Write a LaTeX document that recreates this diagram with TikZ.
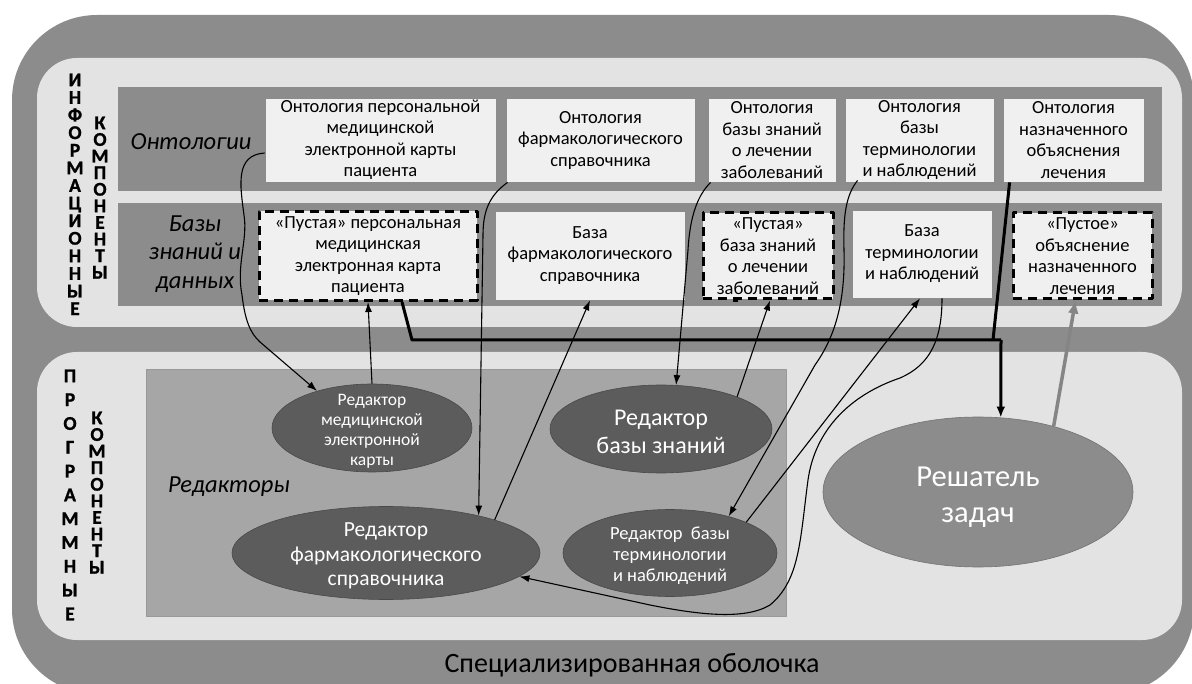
\documentclass[tikz,border=0pt]{standalone}
\usepackage{fontspec}
\setmainfont{Carlito}
\newfontfamily\vfnt{Carlito}[BoldFeatures={FakeBold=1.2}]
\usetikzlibrary{shapes.geometric,arrows.meta,calc}
\definecolor{shellc}{gray}{0.55}
\definecolor{panelc}{gray}{0.89}
\definecolor{bandc}{gray}{0.55}
\definecolor{edc}{gray}{0.65}
\definecolor{boxc}{gray}{0.94}
\definecolor{ellc}{gray}{0.36}
\definecolor{solvc}{gray}{0.55}
\definecolor{grayarrow}{gray}{0.52}
\newcommand\boxfnt{\fontsize{18.5}{21.5}\selectfont}
\tikzset{
  obox/.style={draw=black!45, line width=0.8pt, fill=boxc, align=center, inner sep=0pt, font=\boxfnt},
  dbox/.style={draw=black, line width=3pt, dash pattern=on 9pt off 6pt, fill=boxc, align=center, inner sep=0pt, font=\boxfnt},
  ell/.style={ellipse, fill=ellc, draw=ellc!80!black, line width=0.6pt, inner sep=0pt},
  etext/.style={text=white, align=center, inner sep=0pt},
  lab/.style={font=\itshape\fontsize{24.5}{28.5}\selectfont, align=center, inner sep=0pt},
  vl/.style={inner sep=0pt, text height=12.5pt, text depth=0pt, font=\vfnt\bfseries\fontsize{19.5}{20}\selectfont},
  conn/.style={line width=1.1pt, -{Latex[length=10pt,width=7pt]}},
  bus/.style={line width=3pt},
}
\begin{document}
\begin{tikzpicture}[x=1pt,y=-1pt,line join=round]
\useasboundingbox (0,0) rectangle (1192,684);
\begin{scope}
\clip (0,0) rectangle (1192,684);
\fill[shellc, rounded corners=85pt] (12,15) rectangle (1194,694);
\end{scope}
% panels
\fill[panelc, rounded corners=40pt] (37,58) rectangle (1182,327);
\fill[panelc, rounded corners=40pt] (37,352) rectangle (1182,640);
% bands
\fill[bandc] (118,87) rectangle (1162,191);
\fill[bandc] (118,203) rectangle (1162,306);
\filldraw[fill=edc, draw=black!40, line width=0.6pt] (146,369) rectangle (786,616);

% vertical titles
\foreach \l [count=\i] in {И,Н,Ф,О,Р,М,А,Ц,И,О,Н,Н,Ы,Е}
  \node[vl] (vinf-\i) at (75,{80+(\i-1)*17.6}) {\l};
\foreach \l [count=\i] in {К,О,М,П,О,Н,Е,Н,Т,Ы}
  \node[vl] (vkoma-\i) at (100,{123+(\i-1)*16.6}) {\l};
\foreach \l [count=\i] in {П,Р,О,Г,Р,А,М,М,Н,Ы,Е}
  \node[vl] (vprog-\i) at (70,{376+(\i-1)*23.8}) {\l};
\foreach \l [count=\i] in {К,О,М,П,О,Н,Е,Н,Т,Ы}
  \node[vl] (vkomb-\i) at (97,{418+(\i-1)*16.6}) {\l};

% labels
\node[lab] (lonto) at (191,142) {Онтологии};
\node[lab] (lbases) at (195,254) {Базы\\знаний и\\данных};
\node[lab] (led) at (229,487) {Редакторы};

% ontology boxes
\node[obox, minimum width=231pt, minimum height=84pt] (o1) at (380.5,140) {Онтология персональной\\медицинской\\электронной карты\\пациента};
\node[obox, minimum width=189pt, minimum height=84pt] (o2) at (600.5,140) {Онтология\\фармакологического\\справочника};
\node[obox, minimum width=128pt, minimum height=84pt] (o3) at (772,140) {Онтология\\базы знаний\\о лечении\\заболеваний};
\node[obox, minimum width=149pt, minimum height=84pt] (o4) at (919.5,140) {Онтология\\базы\\терминологии\\и наблюдений};
\node[obox, minimum width=141pt, minimum height=84pt] (o5) at (1073.5,140) {Онтология\\назначенного\\объяснения\\лечения};

% data boxes
\node[dbox, minimum width=218pt, minimum height=89pt] (d1) at (368,256) {«Пустая» персональная\\медицинская\\электронная карта\\пациента};
\node[obox, minimum width=190pt, minimum height=89pt] (d2) at (590,255.5) {База\\фармакологического\\справочника};
\node[dbox, minimum width=130pt, minimum height=86pt] (d3) at (768,256) {«Пустая»\\база знаний\\о лечении\\заболеваний};
\node[obox, minimum width=140pt, minimum height=88pt] (d4) at (922,254) {База\\терминологии\\и наблюдений};
\node[dbox, minimum width=139pt, minimum height=86pt] (d5) at (1082.5,256) {«Пустое»\\объяснение\\назначенного\\лечения};

% ellipses
\node[ell, minimum width=200pt, minimum height=88pt] (e1) at (372,428) {};
\node[etext, font=\fontsize{17.5}{20}\selectfont] (e1t) at (372,431) {Редактор\\медицинской\\электронной\\карты};
\node[ell, minimum width=222pt, minimum height=88pt] (e2) at (661,429) {};
\node[etext, font=\fontsize{24}{28}\selectfont] (e2t) at (661,432) {Редактор\\базы знаний};
\node[ell, minimum width=308pt, minimum height=93pt] (e3) at (386,553) {};
\node[etext, font=\fontsize{21.5}{24.5}\selectfont] (e3t) at (386,556) {Редактор\\фармакологического\\справочника};
\node[ell, minimum width=214pt, minimum height=87pt] (e4) at (670,553) {};
\node[etext, font=\fontsize{18.5}{21}\selectfont] (e4t) at (670,556) {Редактор\ \ базы\\терминологии\\и наблюдений};
\node[ellipse, fill=solvc, draw=black!55, line width=0.6pt, inner sep=0pt, minimum width=310pt, minimum height=150pt] (e5) at (978,492) {};
\node[etext, font=\fontsize{30.5}{36}\selectfont] (e5t) at (978,497) {Решатель\\задач};

% connectors
\draw[conn] ($(o1.west)+(0,13)$) .. controls (235,155) and (240,185) .. (244,215)
   .. controls (248,240) and (236,265) .. (242,295)
   .. controls (245,320) and (250,333) .. (260,342) -- (e1.146);
\draw[conn] (e1.north) -- (d1.south);
\draw[conn] ($(o2.south west)+(2,0)$) .. controls (490,195) and (483,210) .. (483,235) -- (e3.22);
\draw[conn] (e3.17) -- (d2.south);
\draw[conn] ($(o3.south west)+(3,0)$) .. controls (698,195) and (690,215) .. (688,250) -- (e2.71);
\draw[conn] (e2.23) -- ($(d3.south)+(2,0)$);
\draw[conn] ($(o4.south west)+(13,-2)$) .. controls (846,195) and (843,215) .. (844,250)
   .. controls (845,290) and (840,330) .. (815,365) -- (e4.32);
\draw[conn] (e4.22) -- ($(d4.south)+(-2,0)$);
\draw[conn] ($(d4.south)+(20,0)$) .. controls (942,340) and (930,365) .. (900,378)
   .. controls (850,395) and (815,430) .. (808,480)
   .. controls (800,540) and (800,580) .. (770,605)
   .. controls (745,620) and (700,615) .. (650,605) -- (e3.-10);

% bus
\coordinate (busL) at (412,340);
\coordinate (busR) at (1001,340);
\draw[bus] ($(d1.south)+(34,0)$) -- (busL) -- (busR);
\draw[bus] ($(d2.south)+(35,0)$) -- ($(d2.south)+(35,0)$ |- busL);
\draw[bus] ($(d3.south)+(-30,0)$) -- ($(d3.south)+(-35,0)$ |- busL);
\draw[bus] ($(o5.south west)+(7,0)$) -- (993,340);
\draw[bus, -{Latex[length=11pt,width=9pt]}] (busR) -- (e5.73);

% gray arrow
\draw[grayarrow, line width=3.5pt, -{Latex[length=13pt,width=11pt]}] (e5.41) -- ($(d5.south)+(-7,0)$);

% bottom title
\node[inner sep=0pt, font=\fontsize{28}{32}\selectfont] (title) at (632,665) {Специализированная оболочка};
\end{tikzpicture}
\end{document}
